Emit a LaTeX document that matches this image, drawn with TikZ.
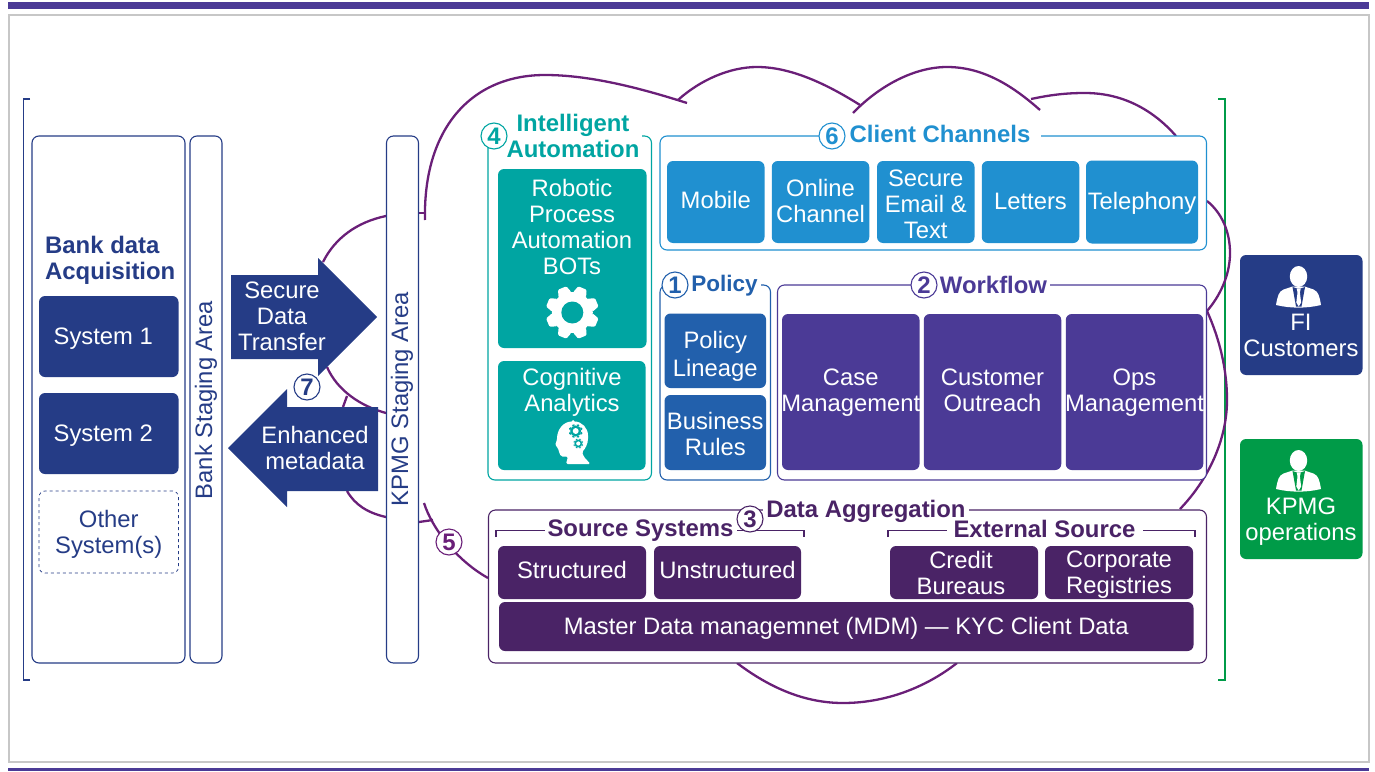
\documentclass[tikz,border=0pt]{standalone}
\usepackage{fontspec}
\setmainfont{Liberation Sans}
\usetikzlibrary{positioning}
\definecolor{barpurple}{HTML}{4B3A96}
\definecolor{navy}{HTML}{253C86}
\definecolor{tealfill}{HTML}{00A5A2}
\definecolor{chanblue}{HTML}{2090D0}
\definecolor{polblue}{HTML}{2260AC}
\definecolor{darkpurple}{HTML}{4A2366}
\definecolor{cloudpurple}{HTML}{6A1F78}
\definecolor{opsgreen}{HTML}{009B48}
\newcommand\tilefont{\fontsize{23.8}{26}\selectfont}
\newcommand\headfont{\fontsize{23.9}{26}\selectfont\bfseries}
\newcommand\cog[5]{\begin{scope}[shift={(#1,#2)},scale=#3]
  \foreach \a in {22.5,67.5,...,360}
    \fill[#4,rotate=\a,rounded corners=1.2pt] (-7,-19) -- (-4.5,-26.5) -- (4.5,-26.5) -- (7,-19) -- cycle;
  \fill[#4] (0,0) circle (20.5);
  \fill[#5] (0,0) circle (11);
\end{scope}}
\newcommand\person[3]{\begin{scope}[shift={(#1,#2)}]
  \fill[white] (0,0) ellipse [x radius=8.7,y radius=10.5];
  \fill[white] (-22.5,28.5) .. controls (-21,20) and (-20,15) .. (-15,13) -- (-6,10) -- (6,10) -- (15,13)
     .. controls (20,15) and (21,20) .. (22.5,28.5) .. controls (8,32) and (-8,32) .. (-22.5,28.5) -- cycle;
  \fill[#3] (-6,10.5) -- (-2.5,30) -- (3,30) -- (6.5,10.5) -- (2,12) -- (-1.5,12) -- cycle;
  \fill[white] (-1.8,12) -- (2.2,12) -- (1.4,16) -- (2.6,26) -- (0.2,30) -- (-2.2,26) -- (-1,16) -- cycle;
\end{scope}}
\tikzset{
  frame/.style 2 args={rectangle,rounded corners=7pt,draw,fill=white,line width=1.1pt,inner sep=0pt,minimum width=#1pt,minimum height=#2pt},
  tile/.style 2 args={rectangle,rounded corners=6pt,text=white,font=\tilefont,align=center,inner sep=0pt,minimum width=#1pt,minimum height=#2pt},
  tiletext/.style={text=white,font=\tilefont,align=center,inner sep=0pt},
  title/.style={fill=white,font=\headfont,align=center,inner sep=3pt},
  badge/.style={circle,draw,fill=white,line width=1.1pt,inner sep=0pt,minimum size=26pt,font=\headfont},
  cloudline/.style={draw=cloudpurple,line width=2.3pt},
  tiny/.style={line width=1.2pt}
}
\begin{document}
\begin{tikzpicture}[x=1pt,y=-1pt,on grid]
  \useasboundingbox (0,0) rectangle (1375,771);
  \fill[barpurple] (8,2) rectangle (1369,9);
  \fill[barpurple] (8,768) rectangle (1369,771);
  \draw[black!22,line width=1.4pt] (9,15) rectangle (1369,762);

  \draw[navy,tiny] (30,99) -- (23.5,99) -- (23.5,680) -- (30,680);
  \draw[opsgreen,line width=1.4pt] (1218,99) -- (1225,99) -- (1225,680) -- (1218,680);

  \path[cloudline] (425,220) .. controls (423,130) and (470,75) .. (545,75) .. controls (590,75) and (640,88) .. (687,103);
  \path[cloudline] (678,100) .. controls (700,80) and (730,67) .. (757,67) .. controls (790,67) and (825,83) .. (860,105);
  \path[cloudline] (853,113) .. controls (880,85) and (915,67) .. (947,67) .. controls (985,67) and (1015,88) .. (1040,110);
  \path[cloudline] (1031,99) .. controls (1050,95) and (1065,93) .. (1085,93) .. controls (1125,93) and (1155,112) .. (1176,136);
  \path[cloudline] (1207,201) .. controls (1222,213) and (1230,232) .. (1230,253) .. controls (1230,275) and (1220,296) .. (1207,311);
  \path[cloudline] (1207,311) .. controls (1220,340) and (1227,370) .. (1227,400) .. controls (1227,440) and (1208,480) .. (1180,509);
  \path[cloudline] (737,663) .. controls (770,688) and (805,703) .. (843,703) .. controls (885,703) and (925,688) .. (957,663);
  \path[cloudline] (424,503) .. controls (432,528) and (456,560) .. (488,578);
  \path[cloudline] (419,522) -- (433,520);
  \path[cloudline] (327,367) .. controls (337,390) and (360,406) .. (386,413);
  \path[cloudline] (347,396) -- (343,407);
  \path[cloudline] (347,491) .. controls (355,505) and (368,513) .. (386,517);
  \path[cloudline] (386,216) .. controls (357,222) and (335,238) .. (323,262);
  \path[cloudline] (418,213) -- (425,213);

  % left column
  \node[frame={153}{527},draw=navy] (bank) at (108.5,399.5) {};
  \node[frame={32}{527},draw=navy] (bankstage) at (206,399.5) {};
  \node[frame={32}{527},draw=navy] (kpmgstage) at (402.5,399.5) {};
  \node[rotate=90,text=navy,font=\tilefont] (banklabel) at (206,400) {Bank Staging Area};
  \node[rotate=90,text=navy,font=\tilefont] (kpmglabel) at (402,399) {KPMG Staging Area};
  \node[anchor=west,text=navy,font=\headfont,align=left,inner sep=0pt] (banktitle) at (45,260) {Bank data\\Acquisition};
  \node[tile={139.5}{81},fill=navy] (sys1) at (108.75,336.5) {};
  \node[tile={139.5}{81},fill=navy] (sys2) [below=97pt of sys1] {};
  \node[tile={139.5}{82},draw=navy,dashed,line width=.7pt] (sys3) [below=98.5pt of sys2] {};
  \node[tiletext,xshift=-5.5pt,yshift=-2pt] (sys1text) at (sys1) {System 1};
  \node[tiletext,xshift=-5.5pt,yshift=-2pt] (sys2text) at (sys2) {System 2};
  \node[tiletext,text=navy,yshift=-2pt] (sys3text) at (sys3) {Other\\System(s)};

  % exchange arrows
  \fill[navy] (231,275) -- (318,275) -- (318,258) -- (377,317) -- (318,376) -- (318,359) -- (231,359) -- cycle;
  \node[tiletext] (secure) at (282,316) {Secure\\Data\\Transfer};
  \fill[navy] (378,407) -- (287,407) -- (287,389) -- (228,448) -- (287,507) -- (287,491) -- (378,491) -- cycle;
  \node[tiletext] (enhanced) at (315,448) {Enhanced\\metadata};
  \node[badge,draw=navy,text=navy] (b7) at (307,387) {7};

  % intelligent automation
  \node[frame={163.5}{344},draw=tealfill] (ia) at (569.75,308) {};
  \node[title,text=tealfill] (iatitle) at (573,136) {Intelligent\\Automation};
  \node[badge,draw=tealfill,text=tealfill] (b4) at (494,136) {4};
  \node[tile={148.5}{179},fill=tealfill] (rpa) at (572.25,258.5) {};
  \node[tiletext] (rpatext) at (572,227) {Robotic\\Process\\Automation\\BOTs};
  \cog{572.3}{312.5}{1}{white}{tealfill}
  \node[tile={147.5}{109},fill=tealfill] (cog) at (571.75,415.5) {};
  \node[tiletext] (cogtext) at (572,392) {Cognitive\\Analytics};
  \fill[white,rounded corners=1.5pt] (573,421.5) .. controls (582,421.5) and (588,428) .. (588,437) .. controls (588,444) and (585,449) .. (582,452)
     -- (584,457) -- (590.5,464) -- (566,464) -- (568,456.5) -- (561,456.5) -- (559,452) -- (558,448) -- (555,445) -- (557,440)
     .. controls (557,429) and (564,421.5) .. (573,421.5) -- cycle;
  \cog{575.7}{431}{.27}{tealfill}{white}
  \cog{578.3}{443.5}{.19}{tealfill}{white}

  % client channels
  \node[frame={546.5}{114},draw=chanblue] (chan) at (933.25,193) {};
  \node[title,text=chanblue,inner xsep=11pt] (chantitle) at (940,133.5) {Client Channels};
  \node[badge,draw=chanblue,text=chanblue] (b6) at (832,136) {6};
  \node[tile={97.5}{82},fill=chanblue] (mobile) at (715.75,202) {};
  \node[tile={97.5}{82},fill=chanblue] (online) [right=104.75pt of mobile] {};
  \node[tile={97.5}{82},fill=chanblue] (email) [right=105.25pt of online] {};
  \node[tile={97.5}{82},fill=chanblue] (letters) [right=104.75pt of email] {};
  \node[tile={112}{83},fill=chanblue] (phone) [right=111.5pt of letters] {};
  \node[tiletext,yshift=2pt] (mobiletext) at (mobile) {Mobile};
  \node[tiletext,yshift=1pt] (onlinetext) at (online) {Online\\Channel};
  \node[tiletext,yshift=-2pt] (emailtext) at (email) {Secure\\Email \&\\Text};
  \node[tiletext,yshift=1pt] (letterstext) at (letters) {Letters};
  \node[tiletext,yshift=-1pt] (phonetext) at (phone) {Telephony};

  % policy
  \node[frame={110.5}{195},draw=polblue] (pol) at (715.25,382.5) {};
  \node[title,text=polblue,font=\fontsize{22.5}{26}\selectfont\bfseries] (poltitle) at (724.5,286) {Policy};
  \node[badge,draw=polblue,text=polblue] (b1) at (675,285) {1};
  \node[tile={101.5}{74.5},fill=polblue] (lineage) at (715.25,350.75) {};
  \node[tile={101.5}{75},fill=polblue] (rules) [below=81.75pt of lineage] {};
  \node[tiletext,yshift=-6pt] (lineagetext) at (lineage) {Policy\\[2pt]Lineage};
  \node[tiletext,yshift=-1pt] (rulestext) at (rules) {Business\\Rules};

  % workflow
  \node[frame={429}{195},draw=barpurple] (work) at (992,382.5) {};
  \node[title,text=barpurple] (worktitle) at (993.5,285) {Workflow};
  \node[badge,draw=barpurple,text=barpurple] (b2) at (924,285) {2};
  \node[tile={137.5}{156},fill=barpurple] (case) at (850.75,392) {};
  \node[tile={137.5}{156},fill=barpurple] (outreach) [right=141.75pt of case] {};
  \node[tile={137.5}{156},fill=barpurple] (ops) [right=142pt of outreach] {};
  \node[tiletext] (casetext) at (850.75,393) {Case\\Management};
  \node[tiletext] (outreachtext) at (992.5,390) {Customer\\Outreach};
  \node[tiletext] (opstext) at (1134.5,393) {Ops\\Management};

  % data aggregation
  \node[frame={718}{153},draw=darkpurple] (data) at (847.5,586.5) {};
  \draw[darkpurple,tiny] (496,537) -- (496,530.5) -- (804,530.5) -- (804,537);
  \draw[darkpurple,tiny] (888,537) -- (888,530.5) -- (1195,530.5) -- (1195,537);
  \node[title,text=darkpurple] (datatitle) at (866,511) {Data Aggregation};
  \node[title,text=darkpurple] (srctitle) at (640.5,531) {Source Systems};
  \node[title,text=darkpurple,inner xsep=7pt] (exttitle) at (1044.5,529) {External Source};
  \node[badge,draw=darkpurple,text=darkpurple] (b3) at (750,519) {3};
  \node[tile={148}{53},fill=darkpurple] (struct) at (572,572.5) {};
  \node[tile={147}{53},fill=darkpurple] (unstruct) [right=155.5pt of struct] {};
  \node[tile={148}{53},fill=darkpurple] (credit) at (964,572.5) {};
  \node[tile={148}{53},fill=darkpurple] (corp) [right=155pt of credit] {};
  \node[tile={694.5}{49},fill=darkpurple] (mdm) at (846.25,626.5) {};
  \node[tiletext,yshift=3pt] (structtext) at (struct) {Structured};
  \node[tiletext,yshift=3pt] (unstructtext) at (unstruct) {Unstructured};
  \node[tiletext,xshift=-3pt] (credittext) at (credit) {Credit\\Bureaus};
  \node[tiletext,yshift=-2pt] (corptext) at (corp) {Corporate\\Registries};
  \node[tiletext,yshift=-2pt] (mdmtext) at (mdm) {Master Data managemnet (MDM) --- KYC Client Data};

  \node[badge,draw=cloudpurple,text=cloudpurple] (b5) at (449,542) {5};

  % right side
  \node[tile={122.5}{120},fill=navy] (fi) at (1301.25,315) {};
  \person{1298.5}{276.5}{navy}
  \node[tiletext] (fitext) at (1301,335) {FI\\Customers};
  \node[tile={122.5}{120},fill=opsgreen] (kpmgops) at (1301.25,499) {};
  \person{1298.5}{460.5}{opsgreen}
  \node[tiletext] (kpmgtext) at (1301,522) {KPMG\\operations};
\end{tikzpicture}
\end{document}
